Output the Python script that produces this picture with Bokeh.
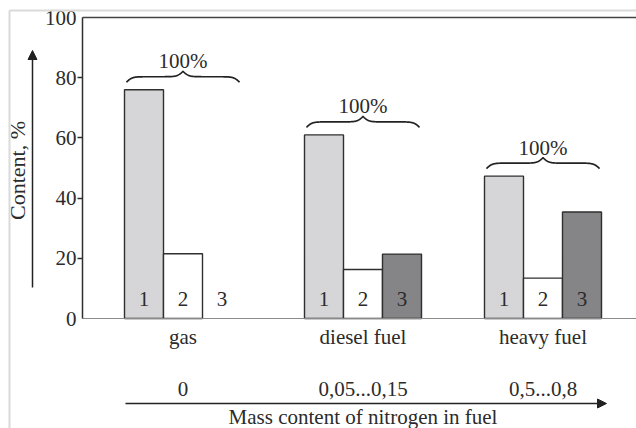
import numpy as np
from bokeh.plotting import figure
from bokeh.models import (Range1d, FixedTicker, LinearAxis, Label, Arrow, NormalHead)
from bokeh.core.properties import value
from bokeh.embed import file_html
from bokeh.resources import INLINE

# ---------------- data ----------------
fuels = ["gas", "diesel fuel", "heavy fuel"]
nitrogen = ["0", "0,05...0,15", "0,5...0,8"]
comp1 = [76.0, 61.0, 47.3]
comp2 = [21.5, 16.3, 13.4]
comp3 = [0.0, 21.4, 35.4]
bar_labels = ["1", "2", "3"]
brace_label = "100%"
y_ticks = [0, 20, 40, 60, 80, 100]
y_title = "Content, %"
x_title = "Mass content of nitrogen in fuel"

# ---------------- layout (pixel geometry) ----------------
W, H = 636, 428
AXIS_X_PX = 82        # y-axis position from the left
ZERO_Y_PX = 318       # baseline position from the top
PX_PER_Y = 3.01       # pixels per percent
GROUP_PX = 180.0      # pixels between groups
FIRST_CENTER_PX = 182.5
BAR_W = 39.0 / GROUP_PX

def xd(px):   # page x pixel -> data x
    return (px - FIRST_CENTER_PX) / GROUP_PX

def yd(py):   # page y pixel -> data y
    return (ZERO_Y_PX - py) / PX_PER_Y

def dy(npx):  # pixel length -> data y length
    return npx / PX_PER_Y

FONT = "Liberation Serif"
TXT = "#2b2b2b"
FS = "21px"
LINE = "#2f2f2f"

p = figure(width=W, height=H, output_backend="svg", toolbar_location=None,
           x_range=Range1d(xd(0), xd(W)), y_range=Range1d(yd(H), yd(0)),
           x_axis_location=None, y_axis_location=None,
           min_border=0, min_border_left=0, min_border_right=0,
           min_border_top=0, min_border_bottom=0,
           background_fill_color="white", border_fill_color="white",
           outline_line_color=None)
p.grid.visible = False

# y axis (fixed at the frame's left edge)
ya = LinearAxis(fixed_location=xd(AXIS_X_PX), bounds=(0, 100),
                ticker=FixedTicker(ticks=y_ticks, minor_ticks=y_ticks[1:-1]))
ya.axis_line_color = LINE
ya.axis_line_width = 1.5
ya.major_tick_line_color = None
ya.major_tick_out = 4
ya.major_tick_in = 0
ya.minor_tick_line_color = LINE
ya.minor_tick_line_width = 1.3
ya.minor_tick_out = 5
ya.minor_tick_in = 0
ya.major_label_standoff = 1
ya.major_label_text_font = FONT
ya.major_label_text_font_size = FS
ya.major_label_text_color = TXT
p.add_layout(ya, "left")

# x axis (baseline)
xa = LinearAxis(fixed_location=0, bounds=(xd(AXIS_X_PX), xd(W)),
                ticker=FixedTicker(ticks=list(range(len(fuels)))))
xa.major_label_overrides = {i: f for i, f in enumerate(fuels)}
xa.axis_line_color = "#8a8a8a"
xa.axis_line_width = 1.2
xa.major_tick_line_color = None
xa.major_tick_out = 0
xa.major_tick_in = 0
xa.minor_tick_line_color = None
xa.major_label_standoff = 6
xa.major_label_text_font = FONT
xa.major_label_text_font_size = FS
xa.major_label_text_color = TXT
p.add_layout(xa, "below")

# top frame line
ta = LinearAxis(fixed_location=100, bounds=(xd(AXIS_X_PX), xd(W)),
                ticker=FixedTicker(ticks=[]))
ta.axis_line_color = "#444444"
ta.axis_line_width = 1.6
ta.major_tick_line_color = None
ta.minor_tick_line_color = None
ta.major_label_text_font_size = "0px"
p.add_layout(ta, "above")

# bars
fills = ["#d6d6d8", "#ffffff", "#858588"]
series = [comp1, comp2, comp3]
offsets = [-BAR_W, 0.0, BAR_W]
for s, fc, off in zip(series, fills, offsets):
    xs = [i + off for i, v in enumerate(s) if v > 0]
    tops = [v for v in s if v > 0]
    p.vbar(x=xs, top=tops, bottom=0, width=BAR_W, fill_color=fc,
           line_color=LINE, line_width=1.4)

# bar number labels
lx, lt = [], []
for i in range(len(fuels)):
    for off, t in zip(offsets, bar_labels):
        lx.append(i + off)
        lt.append(t)
p.text(x=lx, y=[0] * len(lx), text=lt, text_font=value(FONT), text_font_size=FS,
       text_color=TXT, text_align="center", text_baseline="middle", y_offset=-20)

# braces
def brace(xc, half, ybase, h, n=140, beta=40.0):
    t = np.linspace(0.0, 0.5, n)
    yh = 1.0 / (1.0 + np.exp(-beta * t)) + 1.0 / (1.0 + np.exp(-beta * (t - 0.5)))
    yh = (yh - yh[0]) / (yh[-1] - yh[0])
    xl = xc - half + t * 2 * half
    xr = xc + half - t * 2 * half
    xs = np.concatenate([xl, xr[::-1]])
    ys = ybase + h * np.concatenate([yh, yh[::-1]])
    return list(xs), list(ys)

bx, by, tx, ty = [], [], [], []
for i in range(len(fuels)):
    top = max(comp1[i], comp2[i], comp3[i])
    base = top + dy(7.5)
    h = dy(11)
    xs, ys = brace(i, 1.45 * BAR_W, base, h)
    bx.append(xs)
    by.append(ys)
    tx.append(i)
    ty.append(base + h)
p.multi_line(xs=bx, ys=by, line_color="#222222", line_width=1.7)
p.text(x=tx, y=ty, text=[brace_label] * len(tx), text_font=value(FONT), text_font_size=FS,
       text_color=TXT, text_align="center", text_baseline="middle", y_offset=-10)

# y title + arrow
p.add_layout(Label(x=xd(17), y=yd(170), text=y_title, angle=np.pi / 2,
                   text_font=FONT, text_font_size="22px", text_color=TXT,
                   text_align="center", text_baseline="middle"))
p.add_layout(Arrow(x_start=xd(32), y_start=yd(287), x_end=xd(32), y_end=yd(50),
                   line_color="#222222", line_width=1.5,
                   end=NormalHead(size=9, fill_color="#222222", line_color="#222222")))

# nitrogen row
for i, t in enumerate(nitrogen):
    p.add_layout(Label(x=i, y=yd(388.5), text=t, text_font=FONT, text_font_size=FS,
                       text_color=TXT, text_align="center", text_baseline="middle"))

# bottom arrow + x title
p.add_layout(Arrow(x_start=xd(125), y_start=yd(403), x_end=xd(606), y_end=yd(403),
                   line_color="#222222", line_width=1.6,
                   end=NormalHead(size=9, fill_color="#222222", line_color="#222222")))
p.add_layout(Label(x=1, y=yd(416.5), text=x_title, text_font=FONT, text_font_size=FS,
                   text_color=TXT, text_align="center", text_baseline="middle"))

# light outer border of the source picture
p.add_layout(Arrow(end=None, x_start=xd(9), y_start=yd(10), x_end=xd(9), y_end=yd(H),
                   line_color="#dadada", line_width=2))
p.add_layout(Arrow(end=None, x_start=xd(9), y_start=yd(10), x_end=xd(W), y_end=yd(10),
                   line_color="#dadada", line_width=2))

open("out.html", "w").write(file_html(p, INLINE))
